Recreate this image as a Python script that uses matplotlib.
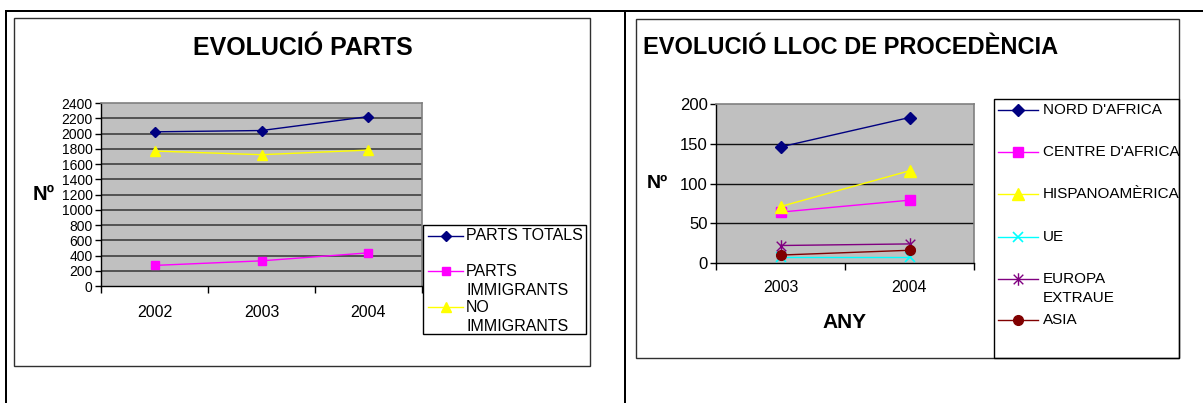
import matplotlib
matplotlib.use("Agg")
import matplotlib.pyplot as plt
from matplotlib.lines import Line2D
from matplotlib.patches import Rectangle
from matplotlib.path import Path
from matplotlib.transforms import Bbox

plt.rcParams['font.family'] = ['Liberation Sans', 'DejaVu Sans']

# ---- data: births ----
years_parts = ['2002', '2003', '2004']
parts_totals = [2022, 2039, 2222]
parts_immigrants = [270, 330, 435]
no_immigrants = [1770, 1722, 1783]

# ---- data: origin ----
years_origin = ['2003', '2004']
nord_africa = [146, 183]
centre_africa = [64, 79]
hispanoamerica = [71, 116]
ue = [8, 8]
europa_extraue = [22, 24]
asia = [10, 16]

W, H = 1203, 403
fig = plt.figure(figsize=(W / 100, H / 100), dpi=100)
fig.patch.set_facecolor('white')


def fx(x):
    return x / W


def fy(y):
    return 1 - y / H


def axes_px(x0, y0, x1, y1):
    return fig.add_axes([fx(x0), fy(y1), (x1 - x0) / W, (y1 - y0) / H])


# asterisk marker: an x with a vertical bar
star_path = Path(
    [(-1, -1), (1, 1), (-1, 1), (1, -1), (0, -1.3), (0, 1.3)],
    [Path.MOVETO, Path.LINETO, Path.MOVETO, Path.LINETO, Path.MOVETO, Path.LINETO],
)

# ---- table borders ----
for xs, ys, lw in [((6, 1203), (11, 11), 2.0), ((6, 6), (11, 403), 2.0),
                   ((625, 625), (11, 403), 2.0)]:
    fig.add_artist(Line2D([fx(x) for x in xs], [fy(y) for y in ys],
                          transform=fig.transFigure, color='black', lw=lw * 0.72))

# chart frames
for (x0, y0, x1, y1) in [(14, 18, 590, 366), (636, 19, 1179, 358)]:
    fig.add_artist(Rectangle((fx(x0), fy(y1)), (x1 - x0) / W, (y1 - y0) / H,
                             transform=fig.transFigure, fill=False,
                             edgecolor='#303030', lw=1.0))


def style_axes(ax, cats, ymax, ystep, grid_color, grid_lw, ytick_fs, xtick_fs, xpad):
    n = len(cats)
    ax.set_facecolor('#C0C0C0')
    ax.set_xlim(-0.5, n - 0.5)
    ax.set_ylim(0, ymax)
    ax.set_xticks(range(n))
    ax.set_xticklabels(cats, fontsize=xtick_fs)
    ax.set_xticks([i - 0.5 for i in range(n + 1)], minor=True)
    ax.tick_params(axis='x', which='major', length=0, pad=xpad)
    ax.tick_params(axis='x', which='minor', length=5, width=1, direction='out', color='black')
    ax.set_yticks(range(0, ymax + 1, ystep))
    ax.tick_params(axis='y', length=4, width=1, direction='out', pad=2,
                   labelsize=ytick_fs, color='black')
    for y in range(ystep, ymax, ystep):
        ax.axhline(y, color=grid_color, lw=grid_lw, zorder=1)
    for s in ['top', 'right']:
        ax.spines[s].set_color('#808080')
        ax.spines[s].set_linewidth(1.2)
    for s in ['left', 'bottom']:
        ax.spines[s].set_color('black')
        ax.spines[s].set_linewidth(1.0)


def draw_legend(box, entries, hx0, hx1, tx, fs):
    x0, y0, x1, y1 = box
    rect = Rectangle((fx(x0), fy(y1)), (x1 - x0) / W, (y1 - y0) / H,
                     transform=fig.transFigure, fill=False, edgecolor='black', lw=1.0)
    fig.add_artist(rect)
    clip = Bbox.from_extents(0, 0, x1 + 1, H)
    for label, y, kw in entries:
        fig.add_artist(Line2D([fx(hx0), fx(hx1)], [fy(y), fy(y)], transform=fig.transFigure,
                              color=kw['color'], lw=kw.get('lw', 1.0)))
        fig.add_artist(Line2D([fx((hx0 + hx1) / 2)], [fy(y)], transform=fig.transFigure,
                              linestyle='none', marker=kw['marker'], markersize=kw['ms'],
                              color=kw['color'], markeredgecolor=kw['color'],
                              markeredgewidth=kw.get('mew', 1.0)))
        for i, line in enumerate(label.split('\n')):
            t = fig.text(fx(tx), fy(y + i * 19.5), line, ha='left', va='center', fontsize=fs)
            t.set_clip_box(clip)
            t.set_clip_on(True)


# ---- left chart: EVOLUCIÓ PARTS ----
ax1 = axes_px(101, 103, 422, 286)
style_axes(ax1, years_parts, 2400, 200, '#404040', 1.2, 10, 11.5, 14)
s1 = [
    ('PARTS TOTALS', parts_totals, dict(color='#000080', marker='D', ms=5.5)),
    ('PARTS\nIMMIGRANTS', parts_immigrants, dict(color='#FF00FF', marker='s', ms=6)),
    ('NO\nIMMIGRANTS', no_immigrants, dict(color='#FFFF00', marker='^', ms=7)),
]
for label, vals, kw in s1:
    ax1.plot(range(len(vals)), vals, color=kw['color'], lw=1.0, marker=kw['marker'],
             markersize=kw['ms'], markeredgecolor=kw['color'], zorder=3, clip_on=False)

fig.text(fx(303), fy(48), 'EVOLUCIÓ PARTS', ha='center', va='center',
         fontsize=18, weight='bold')
fig.text(fx(44), fy(195), 'Nº', ha='center', va='center', fontsize=14.5, weight='bold')

draw_legend((423, 225, 586, 334),
            [(s1[0][0], 236, s1[0][2]), (s1[1][0], 271, s1[1][2]), (s1[2][0], 307, s1[2][2])],
            428, 463, 466, 11.5)

# ---- right chart: EVOLUCIÓ LLOC DE PROCEDÈNCIA ----
ax2 = axes_px(716, 104, 974, 263)
style_axes(ax2, years_origin, 200, 50, '#101010', 1.0, 12, 11.5, 12)
s2 = [
    ("NORD D'AFRICA", nord_africa, dict(color='#000080', marker='D', ms=6.5)),
    ("CENTRE D'AFRICA", centre_africa, dict(color='#FF00FF', marker='s', ms=7.5)),
    ('HISPANOAMÈRICA', hispanoamerica, dict(color='#FFFF00', marker='^', ms=9)),
    ('UE', ue, dict(color='#00FFFF', marker='x', ms=7.5, mew=1.2)),
    ('EUROPA\nEXTRAUE', europa_extraue, dict(color='#800080', marker=star_path, ms=9, mew=1.0)),
    ('ASIA', asia, dict(color='#800000', marker='o', ms=7)),
]
for label, vals, kw in s2:
    ax2.plot(range(len(vals)), vals, color=kw['color'], lw=1.0, marker=kw['marker'],
             markersize=kw['ms'], markeredgecolor=kw['color'],
             markeredgewidth=kw.get('mew', 1.0), zorder=3, clip_on=False)

fig.text(fx(643), fy(47), 'EVOLUCIÓ LLOC DE PROCEDÈNCIA', ha='left', va='center',
         fontsize=17, weight='bold')
fig.text(fx(657), fy(184), 'Nº', ha='center', va='center', fontsize=14, weight='bold')
fig.text(fx(845), fy(323), 'ANY', ha='center', va='center', fontsize=15, weight='bold')

legend_y = [110, 152, 194, 237, 279, 320]
draw_legend((994, 99, 1179, 358),
            [(s2[i][0], legend_y[i], s2[i][2]) for i in range(len(s2))],
            998, 1038, 1043, 11)

fig.savefig('out.png', dpi=100)
